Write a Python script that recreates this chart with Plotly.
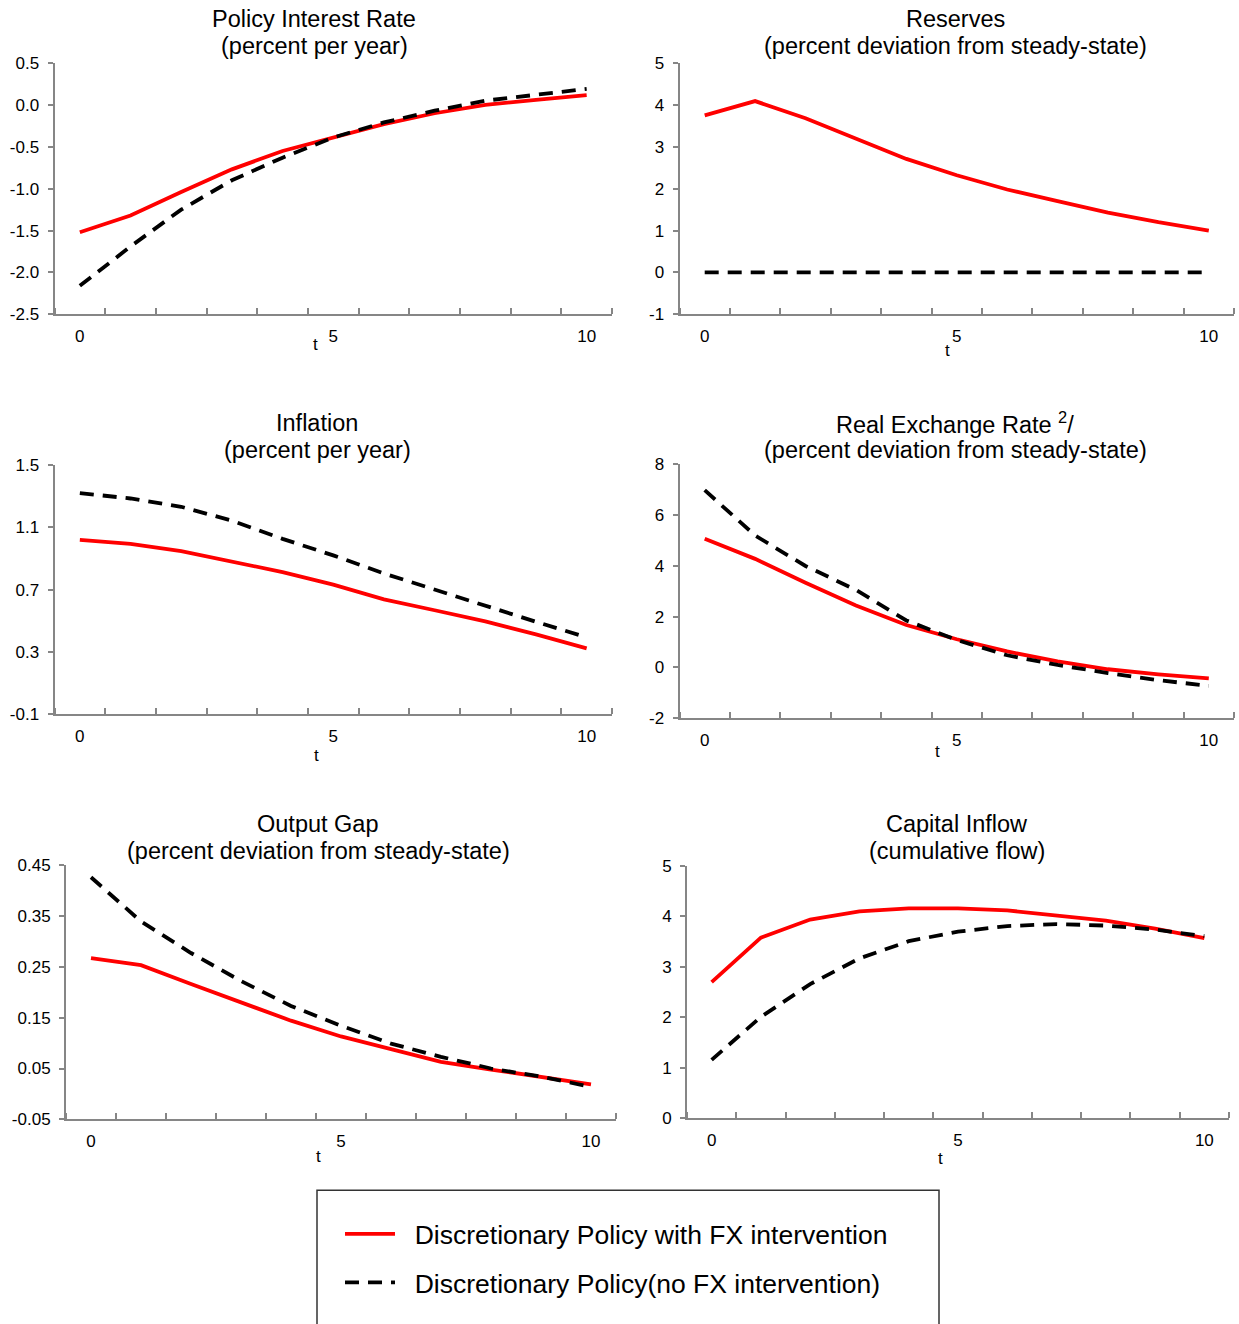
import plotly.graph_objects as go

W, H = 1239, 1324

t = list(range(11))

# Policy Interest Rate
policy_fx = [-1.52, -1.32, -1.04, -0.77, -0.55, -0.39, -0.23, -0.10, 0.00, 0.06, 0.115]
policy_nofx = [-2.16, -1.69, -1.25, -0.90, -0.63, -0.39, -0.21, -0.07, 0.05, 0.12, 0.19]
# Reserves
reserves_fx = [3.75, 4.09, 3.68, 3.19, 2.71, 2.32, 1.98, 1.70, 1.43, 1.20, 1.00]
reserves_nofx = [0, 0, 0, 0, 0, 0, 0, 0, 0, 0, 0]
# Inflation
infl_fx = [1.02, 0.994, 0.947, 0.881, 0.813, 0.732, 0.638, 0.568, 0.496, 0.413, 0.323]
infl_nofx = [1.32, 1.285, 1.232, 1.143, 1.026, 0.92, 0.804, 0.70, 0.594, 0.494, 0.394]
# Real Exchange Rate
rer_fx = [5.06, 4.27, 3.33, 2.44, 1.67, 1.11, 0.63, 0.24, -0.07, -0.27, -0.43]
rer_nofx = [6.97, 5.19, 3.99, 3.05, 1.85, 1.08, 0.48, 0.10, -0.22, -0.50, -0.72]
# Output Gap
gap_fx = [0.267, 0.253, 0.216, 0.180, 0.144, 0.113, 0.088, 0.063, 0.048, 0.034, 0.019]
gap_nofx = [0.426, 0.339, 0.277, 0.222, 0.173, 0.134, 0.099, 0.073, 0.050, 0.034, 0.014]
# Capital Inflow
cap_fx = [2.70, 3.58, 3.94, 4.10, 4.16, 4.16, 4.12, 4.02, 3.92, 3.76, 3.57]
cap_nofx = [1.16, 2.01, 2.66, 3.17, 3.51, 3.70, 3.81, 3.85, 3.82, 3.74, 3.61]

title_lines = [
    ("Policy Interest Rate", "(percent per year)"),
    ("Reserves", "(percent deviation from steady-state)"),
    ("Inflation", "(percent per year)"),
    ("Real Exchange Rate <sup>2</sup>/", "(percent deviation from steady-state)"),
    ("Output Gap", "(percent deviation from steady-state)"),
    ("Capital Inflow", "(cumulative flow)"),
]
y_ticks = [
    [0.5, 0.0, -0.5, -1.0, -1.5, -2.0, -2.5],
    [5, 4, 3, 2, 1, 0, -1],
    [1.5, 1.1, 0.7, 0.3, -0.1],
    [8, 6, 4, 2, 0, -2],
    [0.45, 0.35, 0.25, 0.15, 0.05, -0.05],
    [5, 4, 3, 2, 1, 0],
]
y_ticktext = [
    ["0.5", "0.0", "-0.5", "-1.0", "-1.5", "-2.0", "-2.5"],
    ["5", "4", "3", "2", "1", "0", "-1"],
    ["1.5", "1.1", "0.7", "0.3", "-0.1"],
    ["8", "6", "4", "2", "0", "-2"],
    ["0.45", "0.35", "0.25", "0.15", "0.05", "-0.05"],
    ["5", "4", "3", "2", "1", "0"],
]
x_labels = ["0", "5", "10"]
x_label_vals = [0, 5, 10]
series = [
    (policy_fx, policy_nofx),
    (reserves_fx, reserves_nofx),
    (infl_fx, infl_nofx),
    (rer_fx, rer_nofx),
    (gap_fx, gap_nofx),
    (cap_fx, cap_nofx),
]
names = ["\u00a0\u00a0Discretionary Policy with FX intervention",
         "\u00a0\u00a0Discretionary Policy(no FX intervention)"]

# pixel layout (left, right, top, bottom) of each plot area
boxes = [
    (54.5, 612, 62, 314),
    (679.5, 1234, 62, 314),
    (54.5, 612, 465, 715),
    (679.5, 1234, 464, 719),
    (66, 616, 866, 1121),
    (687, 1229, 867, 1120),
]
title_pos = [(314, 18, 45), (955, 18, 45), (317, 423, 450),
             (955, 423, 450), (318, 825, 852), (957, 825, 852)]
t_pos = [(315, 344), (947, 350), (316, 756), (937, 752), (318, 1158), (940, 1160)]

fx = lambda px: px / W
# vertical mapping compensates for the page's vertical fit
fy = lambda py: 1 - (py * 1340 / 1324 - 8) / H

FONT = "Liberation Sans, Arial, sans-serif"
AXC = "#868686"

fig = go.Figure()
layout = dict(
    width=W, height=H, margin=dict(l=0, r=0, t=0, b=0),
    paper_bgcolor="white", plot_bgcolor="white",
    font=dict(family=FONT, color="black"),
    showlegend=True,
    legend=dict(
        x=fx(340), y=fy(1212), xanchor="left", yanchor="top",
        font=dict(size=26.5, family=FONT, color="black"),
        bgcolor="rgba(0,0,0,0)", borderwidth=0,
        itemwidth=50, tracegroupgap=11, traceorder="grouped",
    ),
    annotations=[], shapes=[],
)

for i, ((yfx, ynofx), box) in enumerate(zip(series, boxes)):
    k = i + 1
    xa = "x" if k == 1 else f"x{k}"
    ya = "y" if k == 1 else f"y{k}"
    fig.add_trace(go.Scatter(
        x=t, y=yfx, mode="lines", name=names[0], legendgroup="a",
        showlegend=(k == 1), line=dict(color="#FF0000", width=3.8),
        xaxis=xa, yaxis=ya, hoverinfo="skip"))
    fig.add_trace(go.Scatter(
        x=t, y=ynofx, mode="lines", name=names[1], legendgroup="b",
        showlegend=(k == 1), line=dict(color="black", width=3.8, dash="14px,9px"),
        xaxis=xa, yaxis=ya, hoverinfo="skip"))
    l, r, tp, bt = box
    yt = y_ticks[i]
    layout[f"xaxis{k if k > 1 else ''}"] = dict(
        domain=[fx(l), fx(r)], anchor=ya, range=[-0.5, 10.5],
        showgrid=False, zeroline=False, showline=True, linecolor=AXC, linewidth=2,
        tickmode="array", tickvals=x_label_vals, ticktext=x_labels, ticks="",
        tickfont=dict(size=17, family=FONT, color="black"),
        ticklabelstandoff=5,
        minor=dict(tickmode="array", tickvals=[v - 0.5 for v in range(12)],
                   ticks="inside", ticklen=6, tickwidth=1.5, tickcolor=AXC, showgrid=False),
        fixedrange=True,
    )
    layout[f"yaxis{k if k > 1 else ''}"] = dict(
        domain=[fy(bt), fy(tp)], anchor=xa, range=[min(yt), max(yt)],
        showgrid=False, zeroline=False, showline=True, linecolor=AXC, linewidth=2,
        tickmode="array", tickvals=yt, ticktext=y_ticktext[i],
        ticks="outside", ticklen=5, tickwidth=1.5, tickcolor=AXC,
        tickfont=dict(size=17, family=FONT, color="black"),
        ticklabelstandoff=5,
        fixedrange=True,
    )
    tx, ty1, ty2 = title_pos[i]
    for txt, ty in zip(title_lines[i], (ty1, ty2)):
        layout["annotations"].append(dict(
            text=txt, x=fx(tx), y=fy(ty), xref="paper", yref="paper",
            xanchor="center", yanchor="middle", showarrow=False,
            font=dict(size=23.5, family=FONT, color="black")))
    ax_, ay_ = t_pos[i]
    layout["annotations"].append(dict(
        text="t", x=fx(ax_), y=fy(ay_), xref="paper", yref="paper",
        xanchor="center", yanchor="middle", showarrow=False,
        font=dict(size=17, family=FONT, color="black")))

# legend frame
layout["shapes"].append(dict(
    type="rect", xref="paper", yref="paper",
    x0=fx(317), x1=fx(939), y0=fy(1345), y1=fy(1192),
    line=dict(color="#333333", width=1.5), fillcolor="rgba(0,0,0,0)", layer="below"))

fig.update_layout(**layout)
fig.write_html("out.html", config={"displayModeBar": False},
               post_script="document.body.style.margin='0';")
